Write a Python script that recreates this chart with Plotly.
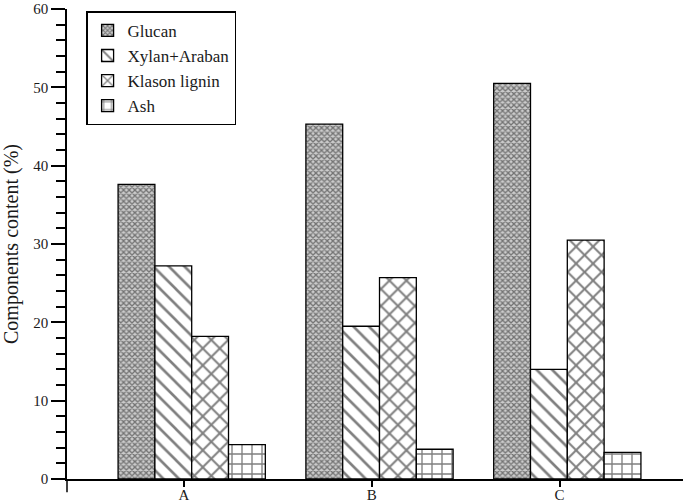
import plotly.graph_objects as go

categories = ["A", "B", "C"]
glucan = [37.6, 45.3, 50.5]
xylan_araban = [27.2, 19.5, 14.0]
klason_lignin = [18.2, 25.7, 30.5]
ash = [4.4, 3.8, 3.4]

series = [
    ("Glucan", glucan, dict(shape="x", size=4, solidity=0.55, fgcolor="#1a1a1a", bgcolor="#cccccc")),
    ("Xylan+Araban", xylan_araban, dict(shape="\\", size=11, solidity=0.24, fgcolor="black", bgcolor="white")),
    ("Klason lignin", klason_lignin, dict(shape="x", size=12, solidity=0.3, fgcolor="black", bgcolor="white")),
    ("Ash", ash, dict(shape="+", size=10, solidity=0.25, fgcolor="black", bgcolor="white")),
]

xpos = list(range(len(categories)))
bar_w = 0.196
shift = 0.041

FONT = "Liberation Serif"

fig = go.Figure()
for i, (name, vals, pat) in enumerate(series):
    fig.add_trace(go.Bar(
        x=xpos, y=vals, name=name,
        width=bar_w,
        offset=shift - 2 * bar_w + i * bar_w,
        marker=dict(color="white", pattern=pat,
                    line=dict(color="black", width=1.3)),
    ))

fig.update_layout(
    width=685, height=503,
    margin=dict(l=67, r=2, t=9, b=24, autoexpand=False),
    paper_bgcolor="white", plot_bgcolor="white",
    barmode="overlay",
    font=dict(family=FONT, color="#1a1a1a", size=16),
    showlegend=True,
    legend=dict(
        x=0.031, y=0.995, xanchor="left", yanchor="top",
        bordercolor="black", borderwidth=1.5, bgcolor="white",
        font=dict(family=FONT, size=17, color="#1a1a1a"),
        tracegroupgap=0, itemwidth=30,
    ),
    xaxis=dict(
        range=[-0.623, 2.657], automargin=False,
        tickmode="array", tickvals=xpos, ticktext=categories,
        showline=True, linecolor="black", linewidth=1.5,
        ticks="outside", ticklen=6, tickwidth=1.5, tickcolor="black",
        tickfont=dict(family=FONT, size=15),
        ticklabelstandoff=-5, ticklabeloverflow="allow",
        showgrid=False, zeroline=False,
    ),
    yaxis=dict(
        range=[0, 60], dtick=10, automargin=False,
        showline=True, linecolor="black", linewidth=1.5,
        ticks="outside", ticklen=14, tickwidth=1.5, tickcolor="black",
        minor=dict(dtick=2, ticks="outside", ticklen=9, tickwidth=1.5, tickcolor="black"),
        tickfont=dict(family=FONT, size=15),
        ticklabeloverflow="allow",
        showgrid=False, zeroline=False,
        title=dict(text="Components content (%)", font=dict(family=FONT, size=20), standoff=15),
    ),
    shapes=[dict(type="line", xref="paper", yref="paper", x0=0, x1=0, y0=0, y1=-0.028,
                 line=dict(color="black", width=1.5))],
)

fig.write_html("out.html", config={"displayModeBar": False},
               post_script="document.body.style.margin='0px';")
